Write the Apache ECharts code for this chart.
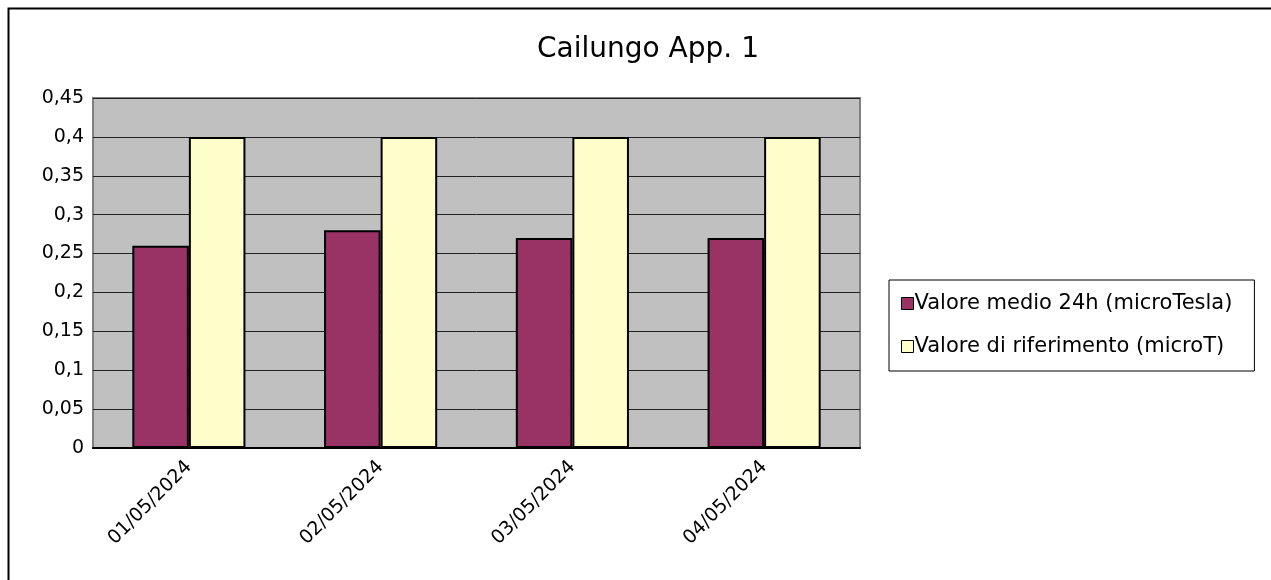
<!DOCTYPE html>
<html><head><meta charset="utf-8">
<script src="https://cdn.jsdelivr.net/npm/echarts@6/dist/echarts.min.js"></script>
<style>html,body{margin:0;padding:0;background:#fff}#c{width:1271px;height:580px}</style>
</head><body><div id="c"></div>
<script>
const categories = ['01/05/2024','02/05/2024','03/05/2024','04/05/2024'];
const valoreMedio = [0.26, 0.28, 0.27, 0.27];
const valoreRiferimento = [0.4, 0.4, 0.4, 0.4];
const seriesNames = ['Valore medio 24h (microTesla)', 'Valore di riferimento (microT)'];
const titleText = 'Cailungo App. 1';

const fmt = v => String(Math.round(v*100)/100).replace('.', ',');
const chart = echarts.init(document.getElementById('c'), null, {renderer:'canvas'});
const FONT = 'DejaVu Sans, Arial, sans-serif';
chart.setOption({
  animation:false,
  backgroundColor:'#fff',
  graphic:[{type:'rect', shape:{x:8.5,y:8.5,width:1300,height:700}, style:{fill:'none', stroke:'#000', lineWidth:2}, silent:true, z:-1}],
  title:{text:titleText, left:643, top:31, textAlign:'center', textStyle:{fontFamily:FONT, fontSize:28, fontWeight:'normal', color:'#000'}},
  legend:{
    orient:'vertical', left:889, top:280,
    padding:[13,22,14,12], itemGap:22,
    borderColor:'#000', borderWidth:1,
    itemWidth:12, itemHeight:12, icon:'rect',
    textStyle:{fontFamily:FONT, fontSize:21, color:'#000', padding:[0,0,0,-4]},
    itemStyle:{borderColor:'#000', borderWidth:1},
    data:seriesNames
  },
  grid:{left:93, top:98, width:767, height:350, show:true, backgroundColor:'#c0c0c0', borderColor:'#808080', borderWidth:2},
  xAxis:{type:'category', data:categories,
    axisLine:{lineStyle:{color:'#000', width:2}}, axisTick:{show:false},
    axisLabel:{rotate:45, fontFamily:FONT, fontSize:19, color:'#000', margin:16, interval:0}},
  yAxis:{type:'value', min:0, max:0.45, interval:0.05,
    axisLine:{show:false}, axisTick:{show:false},
    axisLabel:{formatter:fmt, fontFamily:FONT, fontSize:19, color:'#000', margin:9},
    splitLine:{lineStyle:{color:'#222', width:1}}},
  series:[
    {name:seriesNames[0], type:'bar', data:valoreMedio, barGap:'0%', barCategoryGap:'41%',
     itemStyle:{color:'#993366', borderColor:'#000', borderWidth:2}},
    {name:seriesNames[1], type:'bar', data:valoreRiferimento,
     itemStyle:{color:'#ffffcc', borderColor:'#000', borderWidth:2}}
  ]
});
</script></body></html>
